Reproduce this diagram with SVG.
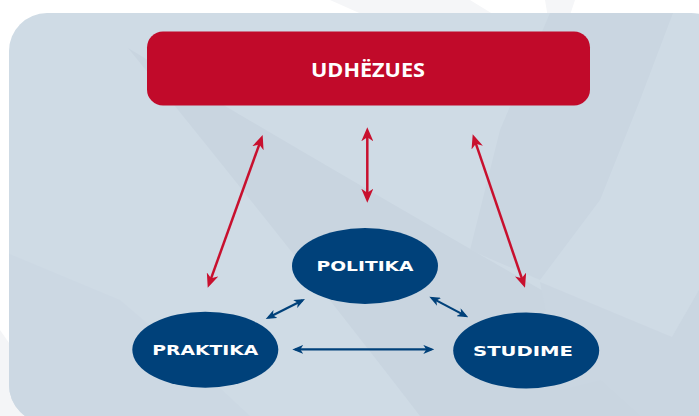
<svg xmlns="http://www.w3.org/2000/svg" width="699" height="416" viewBox="0 0 699 416">
  <defs>
    <marker id="redHead" viewBox="0 0 14 12" refX="10" refY="6" markerWidth="14" markerHeight="12" markerUnits="userSpaceOnUse" orient="auto-start-reverse">
      <path d="M0,0 L14,6 L0,12 L4,6 Z" fill="#c8102e"/>
    </marker>
    <marker id="blueHead" viewBox="0 0 11 9" refX="8" refY="4.5" markerWidth="11" markerHeight="9" markerUnits="userSpaceOnUse" orient="auto-start-reverse">
      <path d="M0,0 L11,4.5 L0,9 L3,4.5 Z" fill="#00417a"/>
    </marker>
    <clipPath id="panelClip">
      <rect x="9" y="13" width="720" height="410" rx="38"/>
    </clipPath>
  </defs>
  <style>
    .red { stroke: #c8102e; stroke-width: 2.5; fill: none; marker-start: url(#redHead); marker-end: url(#redHead); }
    .blue { stroke: #00417a; stroke-width: 2.2; fill: none; marker-start: url(#blueHead); marker-end: url(#blueHead); }
    .node { fill: #00417a; }
    .nodeText { fill: #ffffff; font-family: "DejaVu Sans", "Liberation Sans", sans-serif; font-weight: bold; font-size: 13.5px; text-anchor: middle; }
    .titleText { fill: #ffffff; font-family: "Open Sans", "Liberation Sans", sans-serif; font-weight: bold; font-size: 19px; text-anchor: middle; }
  </style>

  <!-- background -->
  <rect x="0" y="0" width="699" height="416" fill="#ffffff"/>
  <polygon points="330,0 470,0 600,80 600,120" fill="#f5f6f8"/>
  <polygon points="545,0 575,0 555,60" fill="#f5f6f8"/>
  <polygon points="0,330 60,416 0,416" fill="#f4f5f7"/>
  <rect x="9" y="13" width="720" height="410" rx="38" fill="#cfdbe5"/>
  <g clip-path="url(#panelClip)">
    <path d="M128,48 Q330,170 699,380 L699,416 L420,416 Q300,260 128,48 Z" fill="#c9d5e0"/>
    <polygon points="550,13 673,13 640,100 600,200 540,280 470,250 500,130" fill="#cad6e1"/>
    <polygon points="540,282 672,337 699,290 699,416 640,416 600,380 560,390" fill="#cad6e1"/>
    <polygon points="0,250 120,300 190,360 250,416 0,416" fill="#ccd8e3"/>
  </g>

  <!-- connectors -->
  <g id="connectors">
    <line class="red" x1="261.3" y1="138.8" x2="209.1" y2="283.9"/>
    <line class="red" x1="367.3" y1="131.3" x2="367.3" y2="198.7"/>
    <line class="red" x1="474" y1="138.1" x2="523.7" y2="283.9"/>
    <line class="blue" x1="268.4" y1="317.6" x2="302.3" y2="300.4"/>
    <line class="blue" x1="432" y1="298.1" x2="465.6" y2="315.9"/>
    <line class="blue" x1="295.3" y1="349.4" x2="431.3" y2="349.4"/>
  </g>

  <!-- nodes -->
  <g id="udhezues">
    <rect x="147" y="31.5" width="443" height="74" rx="16" fill="#c10a2a"/>
    <text class="titleText" x="368" y="77" textLength="114" lengthAdjust="spacingAndGlyphs">UDHËZUES</text>
  </g>
  <g id="politika">
    <ellipse class="node" cx="365" cy="266" rx="73" ry="38"/>
    <text class="nodeText" x="365" y="271" textLength="97" lengthAdjust="spacingAndGlyphs">POLITIKA</text>
  </g>
  <g id="praktika">
    <ellipse class="node" cx="205.3" cy="349.7" rx="73" ry="38"/>
    <text class="nodeText" x="205.3" y="355" textLength="106" lengthAdjust="spacingAndGlyphs">PRAKTIKA</text>
  </g>
  <g id="studime">
    <ellipse class="node" cx="526.2" cy="350.5" rx="73" ry="38"/>
    <text class="nodeText" x="523" y="355.5" textLength="100" lengthAdjust="spacingAndGlyphs">STUDIME</text>
  </g>
</svg>
